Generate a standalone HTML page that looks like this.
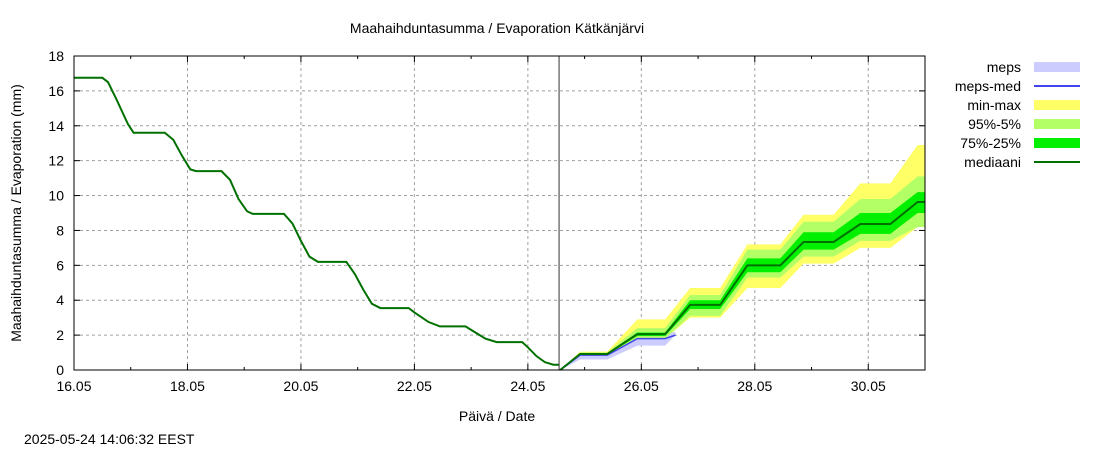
<!DOCTYPE html>
<html><head><meta charset="utf-8"><style>
body{margin:0;background:#fff;}
svg{font-family:"Liberation Sans",sans-serif;}
</style></head><body>
<svg id="c" width="1100" height="450" xmlns="http://www.w3.org/2000/svg"></svg>
<script>
// History (day offset from 16.05, value mm)
const histDays=[0,0.5,0.6,0.75,0.95,1.05,1.6,1.75,1.9,2.05,2.15,2.6,2.75,2.9,3.05,3.15,3.7,3.85,4.0,4.15,4.3,4.8,4.95,5.1,5.25,5.4,5.9,6.0,6.25,6.45,6.9,7.05,7.25,7.45,7.9,8.0,8.15,8.3,8.45,8.55];
const histVals=[16.75,16.75,16.5,15.5,14.1,13.6,13.6,13.2,12.3,11.5,11.4,11.4,10.9,9.8,9.1,8.95,8.95,8.4,7.4,6.5,6.2,6.2,5.5,4.6,3.8,3.55,3.55,3.3,2.75,2.5,2.5,2.2,1.8,1.6,1.6,1.3,0.8,0.45,0.3,0.3];
// Forecast
const fcDays=[8.57,8.92,9.4,9.93,10.42,10.86,11.39,11.87,12.45,12.86,13.39,13.86,14.39,14.87,15.0];
const median=[0,0.92,0.92,2.06,2.06,3.73,3.73,6.0,6.0,7.34,7.34,8.37,8.37,9.63,9.63];
const maxV=[0,1.05,1.05,2.9,2.9,4.7,4.7,7.2,7.2,8.9,8.9,10.7,10.7,12.9,12.9];
const minV=[0,0.85,0.85,1.8,1.8,3.0,3.0,4.7,4.7,6.1,6.1,7.0,7.0,8.2,8.2];
const p95=[0,1.0,1.0,2.4,2.4,4.3,4.3,6.9,6.9,8.5,8.5,9.8,9.8,11.1,11.1];
const p5=[0,0.85,0.85,1.8,1.8,3.1,3.1,5.3,5.3,6.5,6.5,7.4,7.4,8.2,8.2];
const p75=[0,0.95,0.95,2.15,2.15,4.0,4.0,6.4,6.4,7.9,7.9,9.0,9.0,10.2,10.2];
const p25=[0,0.88,0.88,1.95,1.95,3.5,3.5,5.6,5.6,6.9,6.9,7.8,7.8,9.0,9.0];
const mepsDays=[8.57,8.92,9.4,9.93,10.42,10.6];
const mepsHi=[0,0.92,0.92,2.06,2.06,2.2];
const mepsLo=[0,0.6,0.6,1.4,1.4,2.0];
const mepsMed=[0,0.85,0.85,1.8,1.8,2.0];
const xTicks=["16.05","18.05","20.05","22.05","24.05","26.05","28.05","30.05"];
const yTicks=[0,2,4,6,8,10,12,14,16,18];
const nowDay=8.55;

const L=74,R=925,T=56,B=370;
const X=d=>L+d*(R-L)/15, Y=v=>B-v*(B-T)/18;
const svg=document.getElementById('c');const NS='http://www.w3.org/2000/svg';
function el(t,a,name,parent){const e=document.createElementNS(NS,t);for(const k in a)e.setAttribute(k,a[k]);


(parent||svg).appendChild(e);return e;}
function txt(x,y,s,name,anchor,extra){const e=el('text',Object.assign({x:x,y:y,'font-size':14,fill:'#000','text-anchor':anchor||'start'},extra||{}),name);e.textContent=s;return e;}
// grid
yTicks.forEach(v=>{if(v>0&&v<18)el('line',{x1:L,x2:R,y1:Y(v),y2:Y(v),stroke:'#a0a0a0','stroke-dasharray':'3,3'},'y-grid');
el('line',{x1:L,x2:L+6,y1:Y(v),y2:Y(v),stroke:'#000'},'y-tick');el('line',{x1:R-6,x2:R,y1:Y(v),y2:Y(v),stroke:'#000'},'y-tick');
txt(L-10,Y(v)+5,String(v),'y-tick-label','end');});
for(let d=0;d<=15;d++){const x=X(d);const major=d%2===0;
if(major&&d>0)el('line',{x1:x,x2:x,y1:T,y2:B,stroke:'#a0a0a0','stroke-dasharray':'3,3'},'x-grid');
el('line',{x1:x,x2:x,y1:B,y2:B-(major?6:3),stroke:'#000'},'x-tick');el('line',{x1:x,x2:x,y1:T,y2:T+(major?6:3),stroke:'#000'},'x-tick');}
xTicks.forEach((s,i)=>txt(X(i*2),B+21,s,'x-tick-label','middle'));
function band(days,lo,hi,color,name){let p=days.map((d,i)=>X(d)+','+Y(hi[i])).join(' ')+' '+days.map((d,i)=>X(d)+','+Y(lo[i])).reverse().join(' ');
el('polygon',{points:p,fill:color},name);}
function line(days,vals,color,w,name){el('polyline',{points:days.map((d,i)=>X(d)+','+Y(vals[i])).join(' '),fill:'none',stroke:color,'stroke-width':w},name);}
band(fcDays,minV,maxV,'#ffff66','band-min-max');
band(mepsDays,mepsLo,mepsHi,'#ccccff','band-meps');
band(fcDays,p5,p95,'#b3ff66','band-95-5');
band(fcDays,p25,p75,'#00f000','band-75-25');
line(mepsDays,mepsMed,'#4444ee',1.5,'line-meps-med');
line(fcDays,median,'#007000',2,'line-median-forecast');
line(histDays,histVals,'#007000',2,'line-history');
el('line',{x1:X(nowDay),x2:X(nowDay),y1:T,y2:B,stroke:'#333',"stroke-width":1},'now-line');
el('rect',{x:L,y:T,width:R-L,height:B-T,fill:'none',stroke:'#000'},'plot-frame');
txt(497,33,'Maahaihduntasumma / Evaporation   Kätkänjärvi','chart-title','middle',{'xml:space':'preserve'});
txt(497,421,'Päivä / Date','x-axis-title','middle');
txt(21,213,'Maahaihduntasumma / Evaporation (mm)','y-axis-title','middle',{transform:'rotate(-90 21 213)'});
txt(24,444,'2025-05-24 14:06:32 EEST','timestamp');
const leg=[['meps','rect','#ccccff'],['meps-med','line','#4444ee'],['min-max','rect','#ffff66'],['95%-5%','rect','#b3ff66'],['75%-25%','rect','#00f000'],['mediaani','line','#007000']];
leg.forEach((l,i)=>{const y=67+i*19;txt(1021,y+5,l[0],'legend-label','end');
if(l[1]==='rect')el('rect',{x:1034,y:y-5,width:46,height:10,fill:l[2]},'legend-swatch');else el('line',{x1:1034,x2:1080,y1:y,y2:y,stroke:l[2],'stroke-width':2},'legend-swatch');});
</script>
</body></html>
